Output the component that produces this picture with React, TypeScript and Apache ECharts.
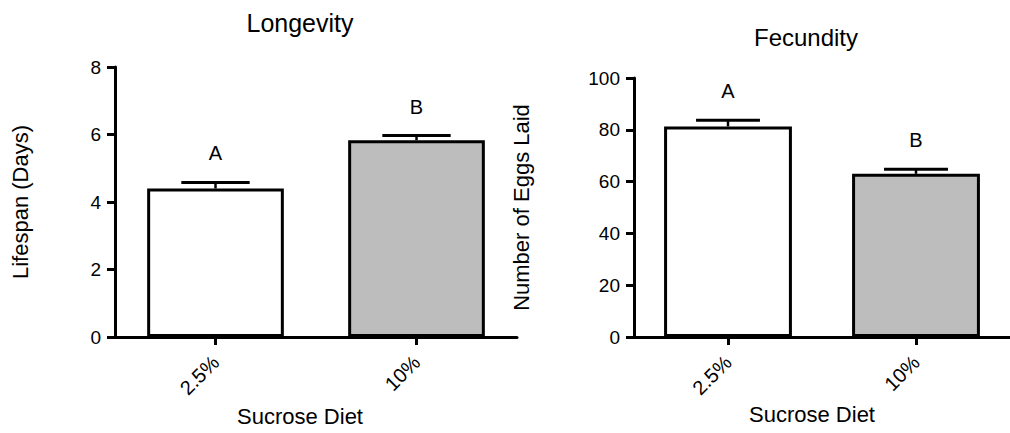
import React, { useEffect, useRef } from "react";
import * as echarts from "echarts";

const categories = ["2.5%", "10%"];
const lifespanMean = [4.4, 5.83];
const lifespanSem = [0.18, 0.14];
const lifespanLetters = ["A", "B"];
const eggsMean = [81.3, 63.0];
const eggsSem = [2.4, 1.8];
const eggsLetters = ["A", "B"];
const lifespanTicks = { min: 0, max: 8, interval: 2 };
const eggsTicks = { min: 0, max: 100, interval: 20 };

const FONT = "Liberation Sans, Arial, Helvetica, sans-serif";
const fills = ["#ffffff", "#bdbdbd"];

function makeErrSeries(idx: number, means: number[], sems: number[], letters: string[]) {
  return {
    type: "custom",
    xAxisIndex: idx,
    yAxisIndex: idx,
    z: 5,
    data: means.map((m, i) => [i, m, sems[i]]),
    renderItem: (params: any, api: any) => {
      const x = api.value(0);
      const v = api.value(1);
      const e = api.value(2);
      const base = api.coord([x, v]);
      const top = api.coord([x, v + e]);
      const bw = api.size([1, 0])[0] * 0.68;
      const half = bw / 4;
      return {
        type: "group",
        children: [
          {
            type: "line",
            shape: { x1: base[0], y1: base[1], x2: top[0], y2: top[1] },
            style: { stroke: "#000", lineWidth: 2.5 },
          },
          {
            type: "line",
            shape: { x1: top[0] - half, y1: top[1], x2: top[0] + half, y2: top[1] },
            style: { stroke: "#000", lineWidth: 3 },
          },
          {
            type: "text",
            x: top[0],
            y: top[1] - 29,
            style: {
              text: letters[params.dataIndex],
              fill: "#000",
              font: `20px ${FONT}`,
              align: "center",
              verticalAlign: "middle",
            },
          },
        ],
      };
    },
  };
}

function makeBarSeries(idx: number, means: number[]) {
  return {
    type: "bar",
    xAxisIndex: idx,
    yAxisIndex: idx,
    barWidth: "68%",
    z: 3,
    data: means.map((m, i) => ({
      value: m,
      itemStyle: { color: fills[i], borderColor: "#000", borderWidth: 3 },
    })),
  };
}

const axisLine = { show: true, lineStyle: { color: "#000", width: 3 } };
const axisTick = { show: true, length: 8, lineStyle: { color: "#000", width: 3 } };

function xAxis(idx: number) {
  return {
    type: "category",
    gridIndex: idx,
    data: categories,
    axisLine,
    axisTick: { ...axisTick, alignWithLabel: true },
    axisLabel: { rotate: 45, margin: 22, color: "#000", fontSize: 20, fontFamily: FONT },
    splitLine: { show: false },
  };
}

function yAxis(idx: number, ticks: any, name: string, gap: number) {
  return {
    type: "value",
    gridIndex: idx,
    min: ticks.min,
    max: ticks.max,
    interval: ticks.interval,
    name,
    nameLocation: "middle",
    nameGap: gap,
    nameTextStyle: { color: "#000", fontSize: 22, fontFamily: FONT },
    axisLine,
    axisTick,
    axisLabel: { margin: 14, color: "#000", fontSize: 19, fontFamily: FONT },
    splitLine: { show: false },
  };
}

function textEl(text: string, x: number, y: number, size: number) {
  return {
    type: "text",
    x,
    y,
    style: { text, fill: "#000", font: `${size}px ${FONT}`, align: "center", verticalAlign: "middle" },
  };
}

export default function App() {
  const ref = useRef<HTMLDivElement>(null);
  useEffect(() => {
    if (!ref.current) return;
    const chart = echarts.init(ref.current, null, { renderer: "svg" });
    chart.setOption({
      animation: false,
      backgroundColor: "#fff",
      grid: [
        { left: 115, top: 67, width: 402, bottom: 96 },
        { left: 634, top: 78, width: 386, bottom: 96 },
      ],
      xAxis: [xAxis(0), xAxis(1)],
      yAxis: [
        yAxis(0, lifespanTicks, "Lifespan (Days)", 84),
        yAxis(1, eggsTicks, "Number of Eggs Laid", 102),
      ],
      series: [
        makeBarSeries(0, lifespanMean),
        makeErrSeries(0, lifespanMean, lifespanSem, lifespanLetters),
        makeBarSeries(1, eggsMean),
        makeErrSeries(1, eggsMean, eggsSem, eggsLetters),
      ],
      graphic: [
        textEl("Longevity", 300, 23, 25),
        textEl("Fecundity", 806, 37, 24),
        textEl("Sucrose Diet", 300, 416, 22),
        textEl("Sucrose Diet", 812, 414, 22),
      ],
    });
    return () => chart.dispose();
  }, []);
  return (
    <div
      ref={ref}
      style={{ position: "fixed", left: 0, top: 0, width: 1010, height: 433 }}
    />
  );
}
